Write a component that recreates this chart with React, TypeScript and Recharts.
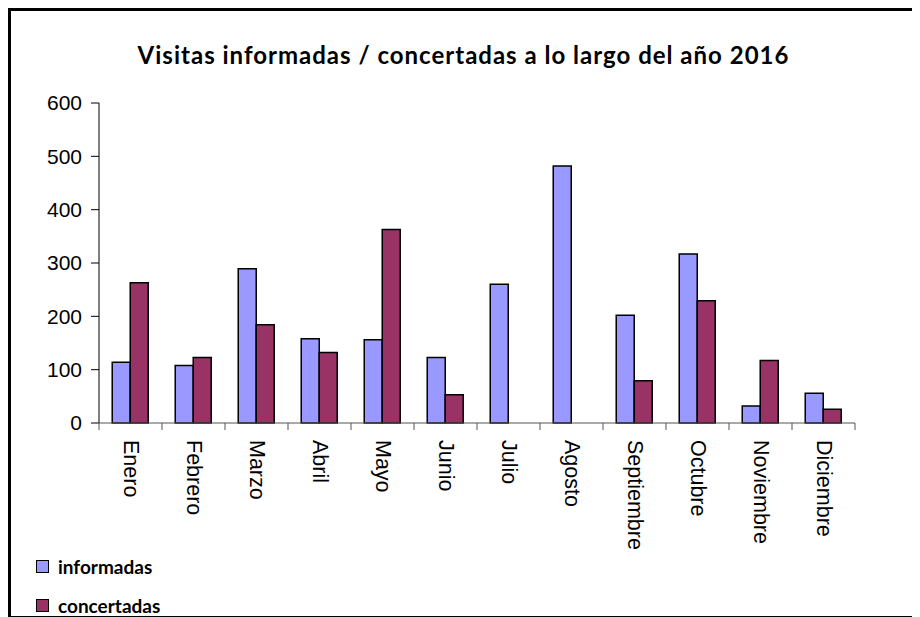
import React from "react";
import { BarChart, Bar, XAxis, YAxis } from "recharts";

const months = ["Enero", "Febrero", "Marzo", "Abril", "Mayo", "Junio", "Julio", "Agosto", "Septiembre", "Octubre", "Noviembre", "Diciembre"];
const informadas = [114, 108, 289, 158, 156, 123, 260, 482, 202, 317, 32, 56];
const concertadas = [263, 123, 184, 132, 363, 53, 0, 0, 79, 229, 117, 26];
const yTicks = [0, 100, 200, 300, 400, 500, 600];
const seriesNames = ["informadas", "concertadas"];
const seriesColors = ["#9999FF", "#993366"];
const title = "Visitas informadas / concertadas a lo largo del año 2016";

const data = months.map((m, i) => ({ month: m, informadas: informadas[i], concertadas: concertadas[i] }));

const W = 911;
const H = 609;
const MARGIN = { top: 95, right: 64, left: 0, bottom: 0 };
const YW = 91;
const BAND = (W - MARGIN.right - MARGIN.left - YW) / months.length;

const XTick = (props: any) => {
  const { x, y, payload, index } = props;
  const axisY = y - 7;
  const left = x - BAND / 2;
  const right = x + BAND / 2;
  return (
    <g>
      <line x1={left} x2={left} y1={axisY} y2={axisY + 7} stroke="#555" strokeWidth={1} />
      {index === months.length - 1 && (
        <line x1={right} x2={right} y1={axisY} y2={axisY + 7} stroke="#555" strokeWidth={1} />
      )}
      <text
        x={x}
        y={axisY + 17}
        transform={`rotate(90, ${x}, ${axisY + 17})`}
        textAnchor="start"
        dominantBaseline="central"
        fontFamily="'Liberation Sans', Arial, sans-serif"
        fontSize={21.5}
        fill="#000"
      >
        {payload.value}
      </text>
    </g>
  );
};

export default function App() {
  return (
    <div style={{ position: "relative", width: W, height: H }}>
      <style>{`html,body{overflow:hidden}`}</style>
      <div
        style={{
          position: "absolute",
          left: 0,
          top: 0,
          width: W,
          height: H,
          boxSizing: "border-box",
          borderLeft: "3px solid #000",
          borderTop: "3px solid #000",
          borderRight: "2px solid #000",
          borderBottom: "1px solid #000",
        }}
      />
      <div
        style={{
          position: "absolute",
          left: 0,
          top: 33,
          width: W,
          textAlign: "center",
          fontFamily: "Lato, sans-serif",
          fontWeight: 700,
          fontSize: 24,
          letterSpacing: 1,
          lineHeight: "28px",
          color: "#000",
        }}
      >
        {title}
      </div>
      <div style={{ position: "absolute", left: 0, top: 0 }}>
        <BarChart width={W} height={H} data={data} margin={MARGIN} barCategoryGap="21%" barGap={0}>
          <YAxis
            width={YW}
            domain={[0, 600]}
            ticks={yTicks}
            interval={0}
            tickSize={8}
            tickMargin={9}
            stroke="#000"
            tick={{ fontFamily: "'Liberation Sans', Arial, sans-serif", fontSize: 21, fill: "#000" }}
          />
          <XAxis
            dataKey="month"
            height={H - 415}
            interval={0}
            tickLine={false}
            tickSize={7}
            tickMargin={0}
            stroke="#555"
            tick={<XTick />}
          />
          <Bar dataKey="informadas" fill={seriesColors[0]} stroke="#000" strokeWidth={1.5} isAnimationActive={false} />
          <Bar dataKey="concertadas" fill={seriesColors[1]} stroke="#000" strokeWidth={1.5} isAnimationActive={false} />
        </BarChart>
      </div>
      <div style={{ position: "absolute", left: 28, top: 548 }}>
        {seriesNames.map((n, i) => (
          <div key={n} style={{ display: "flex", alignItems: "center", height: 20, marginBottom: 19 }}>
            <div
              style={{
                width: 11,
                height: 11,
                background: seriesColors[i],
                border: "1px solid #000",
                marginRight: 9,
              }}
            />
            <span style={{ fontFamily: "Lato, sans-serif", fontWeight: 700, fontSize: 19, color: "#000" }}>{n}</span>
          </div>
        ))}
      </div>
    </div>
  );
}
